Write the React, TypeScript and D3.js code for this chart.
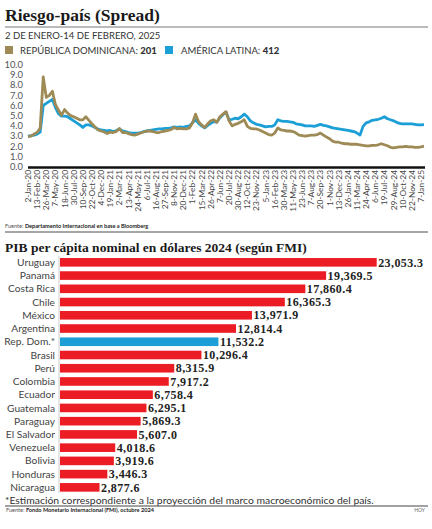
import React from "react";
import * as d3 from "d3";

const tickLabels = [
  "2-Jan-20", "13-Feb-20", "26-Mar-20", "7-May-20", "18-Jun-20", "30-Jul-20", "10-Sep-20", "22-Oct-20",
  "4-Dec-20", "19-Jan-21", "2-Mar-21", "13-Apr-21", "24-May-21", "6-Jul-21", "16-Aug-21", "27-Sep-21",
  "8-Nov-21", "20-Dec-21", "1-Feb-22", "15-Mar-22", "26-Apr-22", "7-Jun-22", "20-Jul-22", "30-Aug-22",
  "12-Oct-22", "23-Nov-22", "5-Jan-23", "16-Feb-23", "30-Mar-23", "11-May-23", "23-Jun-23", "7-Aug-23",
  "20-Sep-23", "1-Nov-23", "13-Dec-23", "26-Jan-24", "11-Mar-24", "24-Apr-24", "6-Jun-24", "19-Jul-24",
  "29-Aug-24", "10-Oct-24", "22-Nov-24", "7-Jan-25",
];

// sampled every 10 trading days from 2-Jan-2020 to 14-Feb-2025 (percentage points)
const drSpread = [
  2.95, 3.0, 3.2, 3.35, 3.8, 8.8, 6.8, 7.0, 7.4, 6.1,
  5.55, 5.05, 5.6, 5.25, 5.0, 4.9, 4.75, 4.6, 4.6, 4.9,
  4.55, 4.2, 3.9, 3.6, 3.5, 3.4, 3.25, 3.4, 3.35, 3.45,
  3.75, 3.35, 3.35, 3.25, 3.15, 3.1, 3.2, 3.3, 3.4, 3.5,
  3.5, 3.45, 3.35, 3.35, 3.45, 3.5, 3.55, 3.65, 3.85, 3.7,
  3.75, 3.7, 3.7, 3.8, 4.3, 5.15, 4.4, 4.1, 3.85, 4.2,
  4.5, 4.6, 4.35, 4.9, 5.15, 5.4, 4.5, 4.0, 4.15, 4.25,
  4.4, 4.6, 3.95, 3.75, 3.7, 3.7, 3.6, 3.45, 3.3, 3.15,
  3.1, 3.3, 3.8, 3.6, 3.55, 3.5, 3.5, 3.45, 3.3, 3.1,
  3.05, 3.0, 3.05, 3.1, 3.1, 3.15, 3.3, 3.1, 2.9, 2.75,
  2.5, 2.4, 2.4, 2.3, 2.25, 2.25, 2.2, 2.2, 2.2, 2.15,
  2.1, 2.05, 2.05, 2.1, 2.1, 2.15, 2.25, 2.15, 2.05, 1.9,
  1.85, 1.9, 1.95, 1.95, 2.0, 1.95, 1.95, 1.9, 1.9, 1.95,
  2.01,
];

const latamSpread = [
  3.0, 3.05, 3.1, 3.2, 3.4, 6.0, 6.2, 6.4, 6.6, 5.8,
  5.2, 4.95, 4.95, 4.9, 4.7, 4.5, 4.3, 4.1, 3.85, 4.1,
  4.1, 4.0, 3.85, 3.7, 3.6, 3.55, 3.5, 3.55, 3.45, 3.55,
  3.7, 3.5, 3.45, 3.35, 3.3, 3.3, 3.3, 3.35, 3.45, 3.5,
  3.55, 3.6, 3.65, 3.7, 3.7, 3.75, 3.75, 3.8, 3.9, 3.85,
  3.9, 3.85, 3.95, 4.0, 4.3, 4.6, 4.25, 4.0, 3.8, 4.05,
  4.25, 4.4, 4.4, 4.8, 5.1, 5.35, 4.6, 4.65, 4.75, 4.7,
  4.9, 5.15, 4.9, 4.5, 4.3, 4.15, 4.1, 4.0, 3.9, 3.95,
  3.95, 4.1, 4.6, 4.5, 4.45, 4.45, 4.4, 4.35, 4.2, 4.15,
  4.1, 4.0, 4.0, 4.0, 3.95, 4.05, 4.15, 4.05, 4.0, 3.9,
  3.8, 3.75, 3.7, 3.65, 3.6, 3.55, 3.5, 3.45, 3.3, 3.1,
  3.95, 4.3, 4.4, 4.55, 4.6, 4.65, 4.75, 4.9, 4.7, 4.6,
  4.5, 4.35, 4.25, 4.2, 4.2, 4.2, 4.2, 4.15, 4.1, 4.1,
  4.12,
];

const yTicks = [0, 1, 2, 3, 4, 5, 6, 7, 8, 9, 10];

const countries = [
  "Uruguay", "Panamá", "Costa Rica", "Chile", "México", "Argentina", "Rep. Dom.*", "Brasil", "Perú",
  "Colombia", "Ecuador", "Guatemala", "Paraguay", "El Salvador", "Venezuela", "Bolivia", "Honduras", "Nicaragua",
];
const gdpPerCapita = [
  23053.3, 19369.5, 17860.4, 16365.3, 13971.9, 12814.4, 11532.2, 10296.4, 8315.9,
  7917.2, 6758.4, 6295.1, 5869.3, 5607.0, 4018.6, 3919.6, 3446.3, 2877.6,
];
const highlighted = "Rep. Dom.*";

const OLIVE = "#9d8a55";
const BLUE = "#1c9fd7";
const RED = "#ec1c24";
const SANS = "Lato, 'Open Sans', sans-serif";
const SERIF = "'Liberation Serif', 'DejaVu Serif', serif";

export default function App() {
  const W = 432;
  const H = 529;

  const x = d3.scaleLinear().domain([0, 1300]).range([28, 424]);
  const y = d3.scaleLinear().domain([0, 10]).range([166.7, 64.7]);
  const line = d3
    .line<number>()
    .x((_, i) => x(i * 10))
    .y((d) => y(d));

  const band = d3.scaleBand<string>().domain(countries).range([253.4, 496.3]).padding(0.35);
  const bx = d3.scaleLinear().domain([0, 23053.3]).range([60, 376.7]);
  const fmt = d3.format(",.1f");

  return (
    <svg
      width={W}
      height={H}
      style={{ position: "absolute", left: 0, top: 0, background: "#fff" }}
      fontFamily={SANS}
    >
      <rect width={W} height={H} fill="#fff" />
      {/* Title 1 */}
      <text x={5} y={21} fontFamily={SERIF} fontWeight={700} fontSize={17.5} fill="#1a1a1a">
        Riesgo-país (Spread)
      </text>
      <line x1={5} x2={428} y1={27} y2={27} stroke="#777" strokeWidth={1} />
      <text x={5} y={38.5} fontSize={9.5} fill="#333">
        2 DE ENERO-14 DE FEBRERO, 2025
      </text>
      {/* legend */}
      <rect x={5} y={46} width={8} height={8} fill={OLIVE} />
      <text x={20} y={53.5} fontSize={9.5} fill="#333">
        REPÚBLICA DOMINICANA: <tspan fontWeight={900}>{Math.round(drSpread[drSpread.length - 1] * 100)}</tspan>
      </text>
      <rect x={165} y={46} width={8} height={8} fill={BLUE} />
      <text x={181} y={53.5} fontSize={9.5} fill="#333">
        AMÉRICA LATINA: <tspan fontWeight={900}>{Math.round(latamSpread[latamSpread.length - 1] * 100)}</tspan>
      </text>

      {/* y axis labels */}
      {yTicks.map((t) => (
        <text key={t} x={23} y={y(t) + 3.3} textAnchor="end" fontSize={9.4} fill="#555">
          {t.toFixed(1)}
        </text>
      ))}

      {/* lines */}
      <path d={line(latamSpread) || ""} fill="none" stroke={BLUE} strokeWidth={2.8} strokeLinejoin="round" />
      <path d={line(drSpread) || ""} fill="none" stroke={OLIVE} strokeWidth={2.8} strokeLinejoin="round" />

      {/* x axis */}
      <line x1={28} x2={425} y1={y(0) + 0.8} y2={y(0) + 0.8} stroke="#111" strokeWidth={2.5} />
      {tickLabels.map((lab, i) => (
        <text
          key={lab}
          transform={`translate(${x(i * 30) + 3},${170}) rotate(-90)`}
          textAnchor="end"
          fontSize={8.4}
          fill="#444"
        >
          {lab}
        </text>
      ))}

      <text x={5} y={228} fontSize={5.6} fill="#555">
        Fuente: <tspan fontWeight={700} fill="#222">Departamento Internacional en base a Bloomberg</tspan>
      </text>
      <line x1={5} x2={428} y1={232} y2={232} stroke="#888" strokeWidth={1.3} />

      {/* Title 2 */}
      <text x={5} y={252} fontFamily={SERIF} fontWeight={700} fontSize={13.5} fill="#1a1a1a">
        PIB per cápita nominal en dólares 2024 (según FMI)
      </text>

      {/* bars */}
      <line x1={59} x2={59} y1={256} y2={493} stroke="#ccc" strokeWidth={1} />
      {countries.map((c, i) => {
        const yy = band(c) as number;
        const v = gdpPerCapita[i];
        return (
          <g key={c}>
            <rect
              x={bx(0)}
              y={yy}
              width={bx(v) - bx(0)}
              height={band.bandwidth()}
              fill={c === highlighted ? BLUE : RED}
            />
            <text x={55} y={yy + band.bandwidth() / 2 + 3.6} textAnchor="end" fontSize={10.2} fill="#444">
              {c}
            </text>
            <text
              x={bx(v) + 1.5}
              y={yy + band.bandwidth() / 2 + 4.2}
              fontFamily={SERIF}
              fontWeight={700}
              fontSize={12}
              letterSpacing={0.4}
              fill="#222"
            >
              {fmt(v)}
            </text>
          </g>
        );
      })}

      <text x={5} y={503.5} fontSize={10.4} fill="#333">
        *Estimación correspondiente a la proyección del marco macroeconómico del país.
      </text>
      <line x1={5} x2={428} y1={506} y2={506} stroke="#444" strokeWidth={1} />
      <text x={6} y={512} fontSize={5.6} fill="#555">
        Fuente: <tspan fontWeight={700} fill="#222">Fondo Monetario Internacional (FMI), octubre 2024</tspan>
      </text>
      <text x={425} y={512} textAnchor="end" fontSize={5} fill="#666">
        HOY
      </text>
    </svg>
  );
}
